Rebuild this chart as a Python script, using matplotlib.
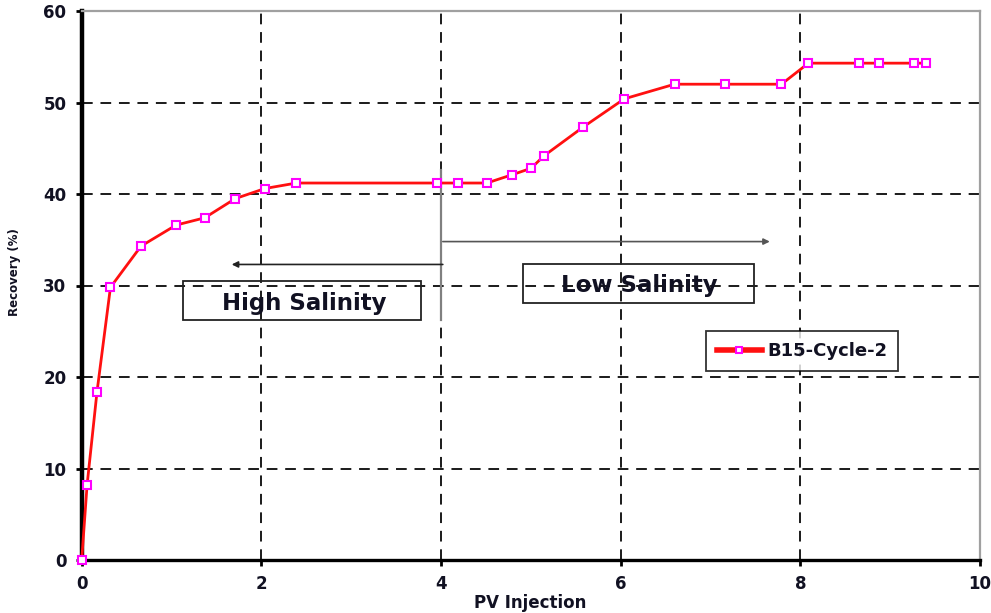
import matplotlib
matplotlib.use("Agg")
import matplotlib.pyplot as plt
from matplotlib.patches import Rectangle

# Oil recovery during core flooding, cycle 2 of core B15
pv_injected = [0.0, 0.06, 0.17, 0.32, 0.66, 1.05, 1.37, 1.71, 2.04, 2.39,
               3.95, 4.19, 4.51, 4.79, 5.0, 5.15, 5.58, 6.04, 6.6, 7.16,
               7.79, 8.09, 8.65, 8.88, 9.26, 9.4]
recovery = [0.0, 8.2, 18.35, 29.8, 34.3, 36.6, 37.4, 39.5, 40.6, 41.2,
            41.2, 41.2, 41.2, 42.1, 42.8, 44.2, 47.3, 50.4, 52.0, 52.0,
            52.0, 54.3, 54.3, 54.3, 54.3, 54.3]
series_name = "B15-Cycle-2"
x_ticks = [0, 2, 4, 6, 8, 10]
y_ticks = [0, 10, 20, 30, 40, 50, 60]
switch_pv = 4.0

plt.rcParams["font.family"] = "DejaVu Sans"
plt.rcParams["font.weight"] = "bold"

fig = plt.figure(figsize=(9.91, 6.13), dpi=100)
ax = fig.add_axes([81.7 / 991, 1 - 560 / 613, (980 - 81.7) / 991, (560 - 11) / 613])

ax.set_xlim(0, 10)
ax.set_ylim(0, 60)
ax.set_xticks(x_ticks)
ax.set_yticks(y_ticks)
ax.tick_params(axis="both", labelsize=12, length=4, width=2, direction="out",
               pad=7, colors="black")
for lab in ax.get_xticklabels() + ax.get_yticklabels():
    lab.set_fontweight("bold")
    lab.set_color("#111122")

ax.grid(True, color="#1a1a1a", linewidth=1.4, linestyle=(0, (5.5, 4.0)))
ax.set_axisbelow(True)

ax.spines["left"].set_linewidth(3.2)
ax.spines["left"].set_color("black")
ax.spines["bottom"].set_linewidth(2.4)
ax.spines["bottom"].set_color("black")
for side in ("top", "right"):
    ax.spines[side].set_linewidth(1.6)
    ax.spines[side].set_color("#a0a0a0")

line, = ax.plot(pv_injected, recovery, color="#ff1010", linewidth=2.0,
                marker="s", markersize=5.5, markerfacecolor="white",
                markeredgecolor="#ff00ff", markeredgewidth=1.5,
                label=series_name, zorder=3, clip_on=False)

# Salinity regime annotations
ax.plot([switch_pv, switch_pv], [26.2, 42.6], color="#808080", linewidth=1.6, zorder=2)
ax.annotate("", xy=(1.67, 32.3), xytext=(switch_pv + 0.02, 32.3),
            arrowprops=dict(arrowstyle="-|>", color="#222222", lw=1.2,
                            mutation_scale=9, shrinkA=0, shrinkB=0))
ax.annotate("", xy=(7.66, 34.8), xytext=(switch_pv + 0.02, 34.8),
            arrowprops=dict(arrowstyle="-|>", color="#555555", lw=1.2,
                            mutation_scale=9, shrinkA=0, shrinkB=0))

ax.add_patch(Rectangle((1.128, 26.2), 3.778 - 1.128, 30.5 - 26.2, fill=False,
                       edgecolor="#222222", linewidth=1.3, zorder=2))
ax.add_patch(Rectangle((4.915, 28.07), 7.486 - 4.915, 32.33 - 28.07, fill=False,
                       edgecolor="#222222", linewidth=1.3, zorder=2))
ax.text(2.48, 27.3, "High Salinity", ha="center", va="baseline",
        fontsize=16.5, fontweight="bold", color="#111122", zorder=4)
ax.text(6.21, 29.27, "Low Salinity", ha="center", va="baseline",
        fontsize=16.5, fontweight="bold", color="#111122", zorder=4)

leg = ax.legend(loc="upper left", bbox_to_anchor=(0.695, 0.417), fontsize=13,
                frameon=True, fancybox=False, shadow=False, handlelength=2.5,
                borderpad=0.6, handletextpad=0.3, borderaxespad=0)
leg.get_frame().set_edgecolor("black")
leg.get_frame().set_linewidth(1.3)
for h in leg.legend_handles:
    h.set_linewidth(4)
    h.set_markersize(5)
for t in leg.get_texts():
    t.set_fontweight("bold")
    t.set_color("#111122")

fig.text(530 / 991, 1 - 603 / 613, "PV Injection", ha="center", va="center",
         fontsize=12, fontweight="bold", color="#111122")
fig.text(15 / 991, 1 - 272 / 613, "Recovery (%)", ha="center", va="center",
         rotation=90, fontsize=8.5, fontweight="bold", color="#111122")

fig.savefig("out.png", dpi=100)
